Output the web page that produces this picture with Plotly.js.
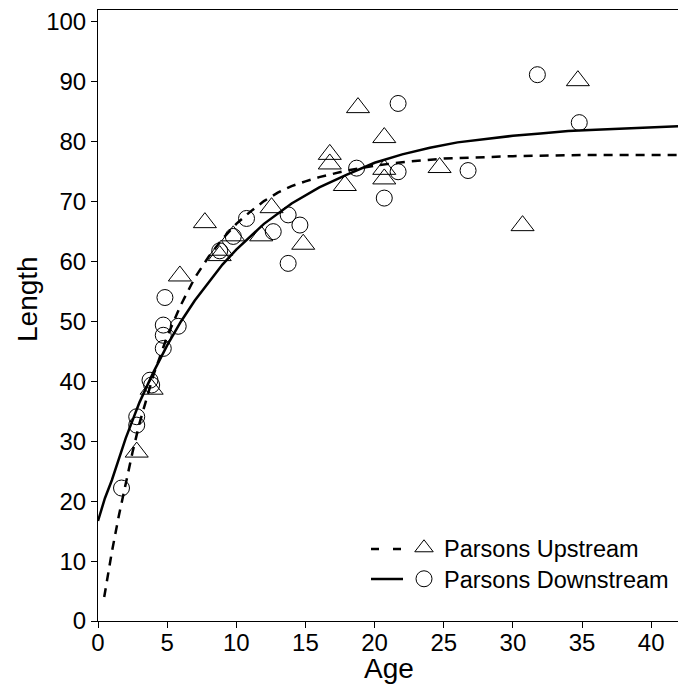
<!DOCTYPE html>
<html>
<head>
<meta charset="utf-8">
<script src="https://cdn.plot.ly/plotly-3.0.1.min.js"></script>
<style>html,body{margin:0;padding:0;background:#fff;}#chart{width:678px;height:687px;}</style>
</head>
<body>
<div id="chart"></div>
<script>
// Observed points
const upAge = [2.8, 3.88, 5.92, 7.73, 8.9, 8.8, 9.78, 11.8, 12.55, 14.84, 16.76, 16.76, 17.85, 18.8, 20.7, 20.7, 20.7, 24.7, 30.7, 34.7];
const upLen = [28.2, 38.7, 57.6, 66.5, 61.9, 61.0, 64.3, 64.3, 69.0, 62.9, 77.9, 76.3, 72.7, 85.7, 80.7, 75.4, 73.8, 75.7, 66.0, 90.2];
const downAge = [1.7, 2.8, 2.8, 3.76, 3.88, 4.84, 4.72, 4.72, 4.72, 5.8, 8.8, 9.78, 10.74, 12.67, 13.75, 13.75, 14.6, 18.7, 20.7, 21.7, 21.7, 26.76, 31.77, 34.8];
const downLen = [22.2, 34.1, 32.7, 40.2, 39.4, 54.0, 49.4, 47.7, 45.5, 49.2, 61.8, 64.2, 67.2, 65.0, 67.8, 59.7, 66.1, 75.6, 70.6, 86.4, 75.0, 75.2, 91.2, 83.2];
// Fitted curves
const upCurveAge = [0.45, 0.75, 1, 1.5, 2, 2.5, 3, 3.5, 4, 5, 6, 7, 8, 9, 10, 11, 12, 13, 14, 15, 16, 18, 20, 22, 25, 30, 35, 42];
const upCurveLen = [4.0, 8.2, 11.5, 17.5, 23.0, 28.2, 33.0, 37.2, 41.0, 47.5, 52.8, 57.3, 60.8, 63.8, 66.3, 68.3, 70.1, 71.5, 72.6, 73.4, 74.1, 75.2, 76.0, 76.6, 77.2, 77.6, 77.8, 77.8];
const downCurveAge = [0, 0.5, 1, 2, 3, 4, 5, 6, 7, 8, 9, 10, 12, 14, 16, 18, 20, 22, 24, 26, 28, 30, 32, 34, 36, 38, 40, 42];
const downCurveLen = [16.7, 20.5, 23.5, 30.5, 36.5, 41.5, 46.0, 50.0, 53.5, 56.5, 59.5, 62.0, 66.3, 69.7, 72.4, 74.5, 76.5, 77.9, 79.0, 79.9, 80.5, 81.0, 81.4, 81.8, 82.0, 82.2, 82.4, 82.6];
const seriesNames = ['Parsons Upstream', 'Parsons Downstream'];
const xTicks = [0, 5, 10, 15, 20, 25, 30, 35, 40];
const yTicks = [0, 10, 20, 30, 40, 50, 60, 70, 80, 90, 100];
const xTitle = 'Age';
const yTitle = 'Length';

const FONT = 'Liberation Sans, Arial, sans-serif';
const traces = [
  {x: upCurveAge, y: upCurveLen, mode: 'lines', line: {color: '#000', width: 2.5, dash: '9px,7px'}, showlegend: false, hoverinfo: 'skip'},
  {x: downCurveAge, y: downCurveLen, mode: 'lines', line: {color: '#000', width: 2.5}, showlegend: false, hoverinfo: 'skip'},
  {x: upAge, y: upLen, mode: 'markers', name: seriesNames[0], legend: 'legend',
   marker: {symbol: 'triangle-up-open', size: 20, color: '#000', line: {color: '#111', width: 1}}},
  {x: downAge, y: downLen, mode: 'markers', name: seriesNames[1], legend: 'legend2',
   marker: {symbol: 'circle-open', size: 16, color: '#000', line: {color: '#111', width: 1}}}
];

const W = 678, H = 687, L = 98, R = 0, T = 10, B = 66;
const pw = W - L - R, ph = H - T - B;
const px = v => (v - L) / pw;
const py = v => (H - B - v) / ph;

const layout = {
  width: W, height: H,
  margin: {l: L, r: R, t: T, b: B, pad: 0},
  paper_bgcolor: '#fff', plot_bgcolor: '#fff',
  font: {family: FONT, color: '#000', size: 24},
  xaxis: {
    range: [0, 41.94], tickvals: xTicks, ticktext: xTicks.map(String),
    showgrid: false, zeroline: false, showline: true, linecolor: '#000', linewidth: 1, mirror: true,
    ticks: 'outside', ticklen: 6, tickwidth: 1, tickcolor: '#000', ticklabelstandoff: -6,
    tickfont: {family: FONT, size: 24, color: '#000'},
    automargin: false
  },
  yaxis: {
    range: [0, 102], tickvals: yTicks, ticktext: yTicks.map(String),
    showgrid: false, zeroline: false, showline: true, linecolor: '#000', linewidth: 1,
    ticks: 'outside', ticklen: 6, tickwidth: 1, tickcolor: '#000',
    tickfont: {family: FONT, size: 24, color: '#000'},
    automargin: false
  },
  annotations: [
    {text: xTitle, xref: 'paper', yref: 'paper', x: px(389), y: py(668), xanchor: 'center', yanchor: 'middle',
     showarrow: false, font: {family: FONT, size: 28, color: '#000'}},
    {text: yTitle, xref: 'paper', yref: 'paper', x: px(27), y: py(299), xanchor: 'center', yanchor: 'middle',
     textangle: -90, showarrow: false, font: {family: FONT, size: 28, color: '#000'}}
  ],
  legend: {x: px(404), y: py(548), xanchor: 'left', yanchor: 'middle', bgcolor: 'rgba(0,0,0,0)',
    borderwidth: 0, font: {family: FONT, size: 23.5, color: '#000'}},
  legend2: {x: px(404), y: py(579), xanchor: 'left', yanchor: 'middle', bgcolor: 'rgba(0,0,0,0)',
    borderwidth: 0, font: {family: FONT, size: 23.5, color: '#000'}},
  shapes: [
    {type: 'line', xref: 'paper', yref: 'paper', x0: px(371), x1: px(401), y0: py(549), y1: py(549),
     line: {color: '#000', width: 2.5, dash: '8px,14px'}},
    {type: 'line', xref: 'paper', yref: 'paper', x0: px(371), x1: px(403), y0: py(579), y1: py(579),
     line: {color: '#000', width: 2.5}}
  ],
  showlegend: true
};

Plotly.newPlot('chart', traces, layout, {staticPlot: true, displayModeBar: false});
</script>
</body>
</html>
